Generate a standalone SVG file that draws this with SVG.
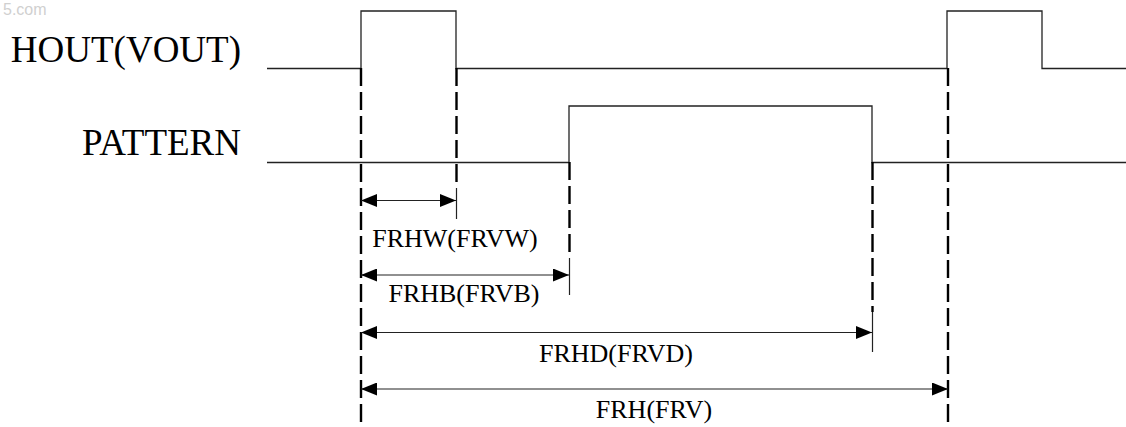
<svg xmlns="http://www.w3.org/2000/svg" width="1126" height="427" viewBox="0 0 1126 427">
<style>
.wave{fill:none;stroke:#222;stroke-width:1.3}
.dash{fill:none;stroke:#000;stroke-width:2.4;stroke-dasharray:18 6}
.ext{fill:none;stroke:#222;stroke-width:1.2}
.dim{fill:none;stroke:#222;stroke-width:1.2;marker-start:url(#ah);marker-end:url(#ah)}
.sig{font-family:"Liberation Serif","Times New Roman",serif;font-size:37px;fill:#000;text-anchor:end}
.lbl{font-family:"Liberation Serif","Times New Roman",serif;font-size:26px;fill:#000;text-anchor:middle}
.wm{font-family:"Liberation Sans",Arial,sans-serif;font-size:16px;fill:#d0d0d0}
</style>
<defs>
<marker id="ah" viewBox="0 0 16 13" refX="16" refY="6.5" markerWidth="16" markerHeight="13" markerUnits="userSpaceOnUse" orient="auto-start-reverse">
<path d="M0,0 L16,6.5 L0,13 Z" fill="#000"/>
</marker>
</defs>
<text class="wm" x="3" y="15">5.com</text>
<g id="hout">
<text class="sig" x="241" y="62">HOUT(VOUT)</text>
<path class="wave" d="M267,68.5 H361 V11 H456 V68.5 H947 V11 H1042 V68.5 H1126"/>
</g>
<g id="pattern">
<text class="sig" x="241" y="155">PATTERN</text>
<path class="wave" d="M267,162.5 H569 V106 H872 V162.5 H1126"/>
</g>
<g id="connectors">
<path class="dash" d="M361,68 V427"/>
<path class="dash" d="M456.5,68 V188"/>
<path class="ext" d="M456.5,188 V219"/>
<path class="dash" d="M569.5,162 V258"/>
<path class="ext" d="M569.5,258 V295"/>
<path class="dash" d="M872.5,162 V312"/>
<path class="ext" d="M872.5,312 V352"/>
<path class="dash" d="M948,68 V427"/>
<path class="dim" d="M361,200.5 H456"/>
<path class="dim" d="M361,275 H569"/>
<path class="dim" d="M361,332.5 H872"/>
<path class="dim" d="M361,389 H948"/>
</g>
<g id="labels">
<text class="lbl" x="455" y="247">FRHW(FRVW)</text>
<text class="lbl" x="464" y="302">FRHB(FRVB)</text>
<text class="lbl" x="616" y="362">FRHD(FRVD)</text>
<text class="lbl" x="654" y="418">FRH(FRV)</text>
</g>
</svg>
